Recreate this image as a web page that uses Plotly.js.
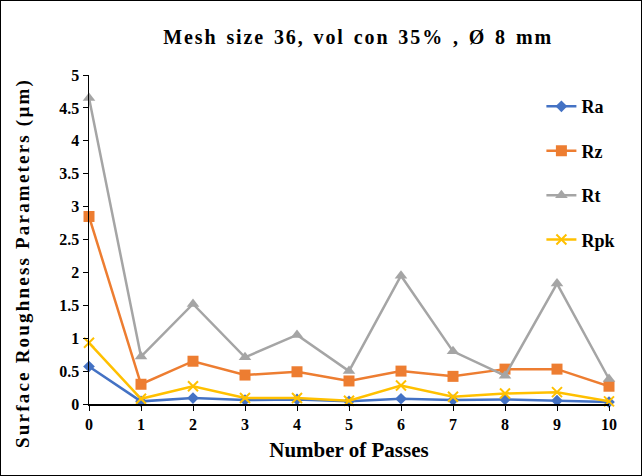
<!DOCTYPE html>
<html><head><meta charset="utf-8">
<script src="https://cdn.plot.ly/plotly-3.0.1.min.js"></script>
<style>body{margin:0;padding:0;background:#fff}#c{width:640px;height:474px;border:1px solid #000;box-sizing:content-box}
.gtitle{letter-spacing:1.9px;word-spacing:2px}
.annotation-text{letter-spacing:2.2px}
</style>
</head><body><div id="c"></div>
<script>
const passes = [0,1,2,3,4,5,6,7,8,9,10];
const Ra  = [0.57,0.04,0.09,0.06,0.07,0.04,0.08,0.06,0.07,0.05,0.03];
const Rz  = [2.85,0.30,0.65,0.44,0.49,0.35,0.50,0.42,0.53,0.53,0.27];
const Rt  = [4.65,0.72,1.52,0.71,1.05,0.50,1.95,0.80,0.43,1.83,0.38];
const Rpk = [0.93,0.08,0.27,0.09,0.09,0.05,0.28,0.11,0.16,0.18,0.04];
const names = ['Ra','Rz','Rt','Rpk'];
const colors = ['#4472C4','#ED7D31','#A5A5A5','#FFC000'];
const symbols = ['diamond','square','triangle-up','x-thin-open'];
const sizes = [9,11,11,10];
const series = [Ra,Rz,Rt,Rpk];
const traces = series.map((s,i)=>({
  x: passes, y: s, name: names[i], type:'scatter', mode:'lines+markers',
  legendgroup: names[i],
  line:{color:colors[i], width:2.5},
  marker:{color:colors[i], symbol:symbols[i], size:sizes[i], line:{color:colors[i], width:i===3?2:0}},
  cliponaxis:false
}));
const F = 'Liberation Serif, Times New Roman, serif';
const layout = {
  width:640, height:474,
  margin:{l:88,r:32,t:74,b:71},
  paper_bgcolor:'#fff', plot_bgcolor:'#fff',
  font:{family:F, color:'#000', size:14},
  title:{text:'<b>Mesh size 36, vol con 35% , Ø 8 mm</b>', x:0.558, xanchor:'center', y:0.925, yanchor:'middle', font:{family:F, size:20, color:'#000', weight:'bold'}},
  xaxis:{range:[0,10], dtick:1, showgrid:false, zeroline:false, showline:true, linecolor:'#000', linewidth:1.5,
    ticks:'outside', ticklen:5, tickcolor:'#000', tickfont:{family:F,size:16,weight:'bold'},
    title:{text:'<b>Number of Passes</b>', font:{family:F,size:21}, standoff:10}},
  yaxis:{range:[0,5], dtick:0.5, showgrid:false, zeroline:false, showline:true, linecolor:'#000', linewidth:1.5,
    ticks:'outside', ticklen:5, tickcolor:'#000', tickfont:{family:F,size:16,weight:'bold'}},
  annotations:[{text:'<b>Surface Roughness Parameters (µm)</b>', xref:'paper', yref:'paper', x:-0.128, y:0.43,
    xanchor:'center', yanchor:'middle', textangle:-90, showarrow:false, font:{family:F,size:19,color:'#000',weight:'bold'}}],
  legend:{x:0.87, y:0.96, xanchor:'left', yanchor:'top', bgcolor:'rgba(0,0,0,0)', font:{family:F,size:18,weight:'bold'}, tracegroupgap:18, itemwidth:30}
};
Plotly.newPlot('c', traces, layout, {displayModeBar:false, staticPlot:true});
</script></body></html>
